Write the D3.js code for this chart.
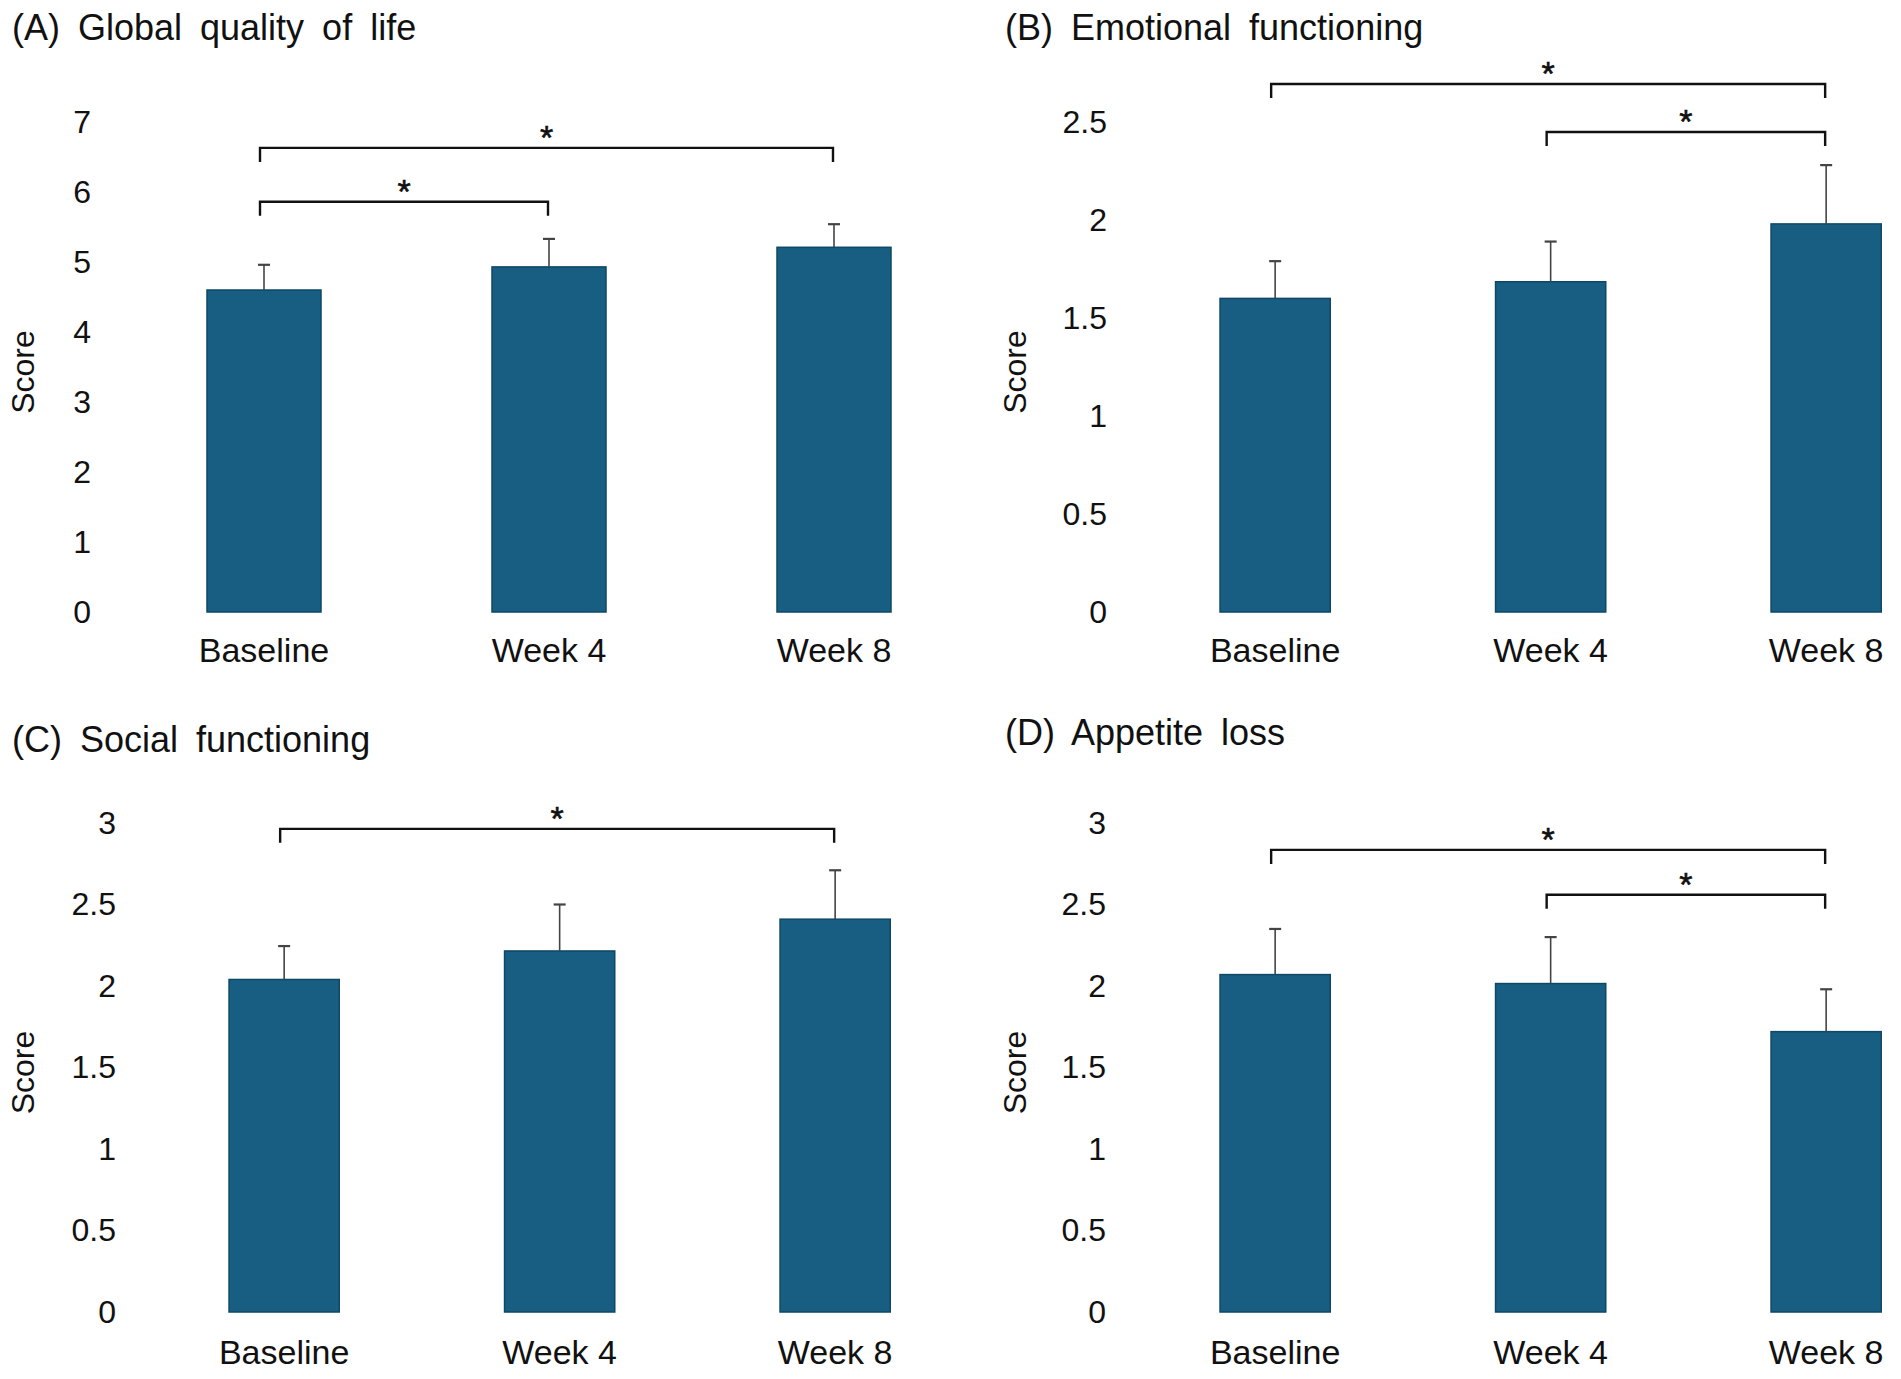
<!DOCTYPE html>
<html>
<head>
<meta charset="utf-8">
<script src="https://cdn.jsdelivr.net/npm/d3@7"></script>
<style>
  body { margin: 0; background: #fff; }
  text { font-family: "Liberation Sans", Arial, sans-serif; fill: #111; }
</style>
</head>
<body>
<script>
// categories on the x axis (same for every panel)
var categories = ["Baseline", "Week 4", "Week 8"];

// (A) Global quality of life
var qolMean = [4.60, 4.93, 5.21];
var qolSd   = [0.36, 0.40, 0.33];
var qolTicks = [0, 1, 2, 3, 4, 5, 6, 7];

// (B) Emotional functioning
var emoMean = [1.60, 1.685, 1.98];
var emoSd   = [0.19, 0.205, 0.30];
var emoTicks = [0, 0.5, 1, 1.5, 2, 2.5];

// (C) Social functioning
var socMean = [2.04, 2.215, 2.41];
var socSd   = [0.205, 0.285, 0.30];
var socTicks = [0, 0.5, 1, 1.5, 2, 2.5, 3];

// (D) Appetite loss
var appMean = [2.07, 2.015, 1.72];
var appSd   = [0.28, 0.285, 0.26];
var appTicks = [0, 0.5, 1, 1.5, 2, 2.5, 3];

// significance brackets: [from, to, level in score units]
var qolSig = [["Baseline", "Week 8", 6.63], ["Baseline", "Week 4", 5.86]];
var emoSig = [["Baseline", "Week 8", 2.694], ["Week 4", "Week 8", 2.449]];
var socSig = [["Baseline", "Week 8", 2.964]];
var appSig = [["Baseline", "Week 8", 2.835], ["Week 4", "Week 8", 2.56]];

var W = 1901, H = 1379;
var barColor = "#175e82";

var svg = d3.select("body").append("svg")
    .attr("width", W)
    .attr("height", H);

// layout for each panel
var panels = [
  { title: "(A) Global quality of life", mean: qolMean, sd: qolSd, ticks: qolTicks, sig: qolSig,
    tx: 12, ty: 40, xr: [121.5, 976.5], yr: [612, 122], axisX: 91, scoreX: 34, catY: 662 },
  { title: "(B) Emotional functioning", mean: emoMean, sd: emoSd, ticks: emoTicks, sig: emoSig,
    tx: 1005, ty: 40, xr: [1137.4, 1963.9], yr: [612, 122], axisX: 1107, scoreX: 1026, catY: 662 },
  { title: "(C) Social functioning", mean: socMean, sd: socSd, ticks: socTicks, sig: socSig,
    tx: 12, ty: 752, xr: [146.4, 972.9], yr: [1312, 823], axisX: 116, scoreX: 34, catY: 1364 },
  { title: "(D) Appetite loss", mean: appMean, sd: appSd, ticks: appTicks, sig: appSig,
    tx: 1005, ty: 745, xr: [1137.4, 1963.9], yr: [1312, 823], axisX: 1106, scoreX: 1026, catY: 1364 }
];

panels.forEach(drawPanel);

function drawPanel(p) {
  var g = svg.append("g");
  var top = p.ticks[p.ticks.length - 1];

  var x = d3.scaleBand()
      .domain(categories)
      .range(p.xr)
      .paddingInner(0.6)
      .paddingOuter(0.3);

  var y = d3.scaleLinear()
      .domain([0, top])
      .range(p.yr);

  // title
  g.append("text")
      .attr("x", p.tx)
      .attr("y", p.ty)
      .attr("font-size", 36)
      .attr("word-spacing", 8)
      .text(p.title);

  // y axis, only the numbers are visible
  var yAxis = g.append("g")
      .attr("transform", "translate(" + p.axisX + ",0)")
      .call(d3.axisLeft(y).tickValues(p.ticks).tickSize(0).tickPadding(0).tickFormat(function(d) { return String(d); }));
  yAxis.select(".domain").remove();
  yAxis.selectAll("text")
      .attr("font-size", 32)
      .attr("font-family", "Liberation Sans, Arial, sans-serif")
      .attr("fill", "#111");

  // y title
  var midY = (p.yr[0] + p.yr[1]) / 2;
  g.append("text")
      .attr("transform", "translate(" + p.scoreX + "," + (midY + 5) + ") rotate(-90)")
      .attr("text-anchor", "middle")
      .attr("font-size", 32)
      .text("Score");

  var rows = categories.map(function(c, i) { return { cat: c, mean: p.mean[i], sd: p.sd[i] }; });

  // bars
  g.selectAll("rect.bar")
      .data(rows)
      .enter()
      .append("rect")
      .attr("class", "bar")
      .attr("x", function(d) { return x(d.cat); })
      .attr("y", function(d) { return y(d.mean); })
      .attr("width", x.bandwidth())
      .attr("height", function(d) { return y(0) - y(d.mean); })
      .attr("fill", barColor)
      .attr("stroke", "#0e4866")
      .attr("stroke-width", 1.5);

  // error bars (upper half only)
  var cx = function(d) { return x(d.cat) + x.bandwidth() / 2; };
  g.selectAll("line.err")
      .data(rows)
      .enter()
      .append("line")
      .attr("x1", cx).attr("x2", cx)
      .attr("y1", function(d) { return y(d.mean); })
      .attr("y2", function(d) { return y(d.mean + d.sd); })
      .attr("stroke", "#444")
      .attr("stroke-width", 1.6);
  g.selectAll("line.cap")
      .data(rows)
      .enter()
      .append("line")
      .attr("x1", function(d) { return cx(d) - 6; })
      .attr("x2", function(d) { return cx(d) + 6; })
      .attr("y1", function(d) { return y(d.mean + d.sd); })
      .attr("y2", function(d) { return y(d.mean + d.sd); })
      .attr("stroke", "#444")
      .attr("stroke-width", 2.2);

  // category labels
  g.selectAll("text.cat")
      .data(categories)
      .enter()
      .append("text")
      .attr("x", function(d) { return x(d) + x.bandwidth() / 2; })
      .attr("y", p.catY)
      .attr("text-anchor", "middle")
      .attr("font-size", 34)
      .text(function(d) { return d; });

  // significance brackets
  p.sig.forEach(function(s) {
    var x1 = x(s[0]) + x.bandwidth() / 2 - 4;
    var x2 = x(s[1]) + x.bandwidth() / 2 - 1;
    var yy = y(s[2]);
    g.append("path")
        .attr("d", "M" + x1 + "," + (yy + 14) + "V" + yy + "H" + x2 + "V" + (yy + 14))
        .attr("fill", "none")
        .attr("stroke", "#111")
        .attr("stroke-width", 2.4);
    g.append("text")
        .attr("x", (x1 + x2) / 2)
        .attr("y", yy + 1)
        .attr("text-anchor", "middle")
        .attr("font-size", 34)
        .attr("stroke", "#111")
        .attr("stroke-width", 0.6)
        .text("*");
  });
}
</script>
</body>
</html>
